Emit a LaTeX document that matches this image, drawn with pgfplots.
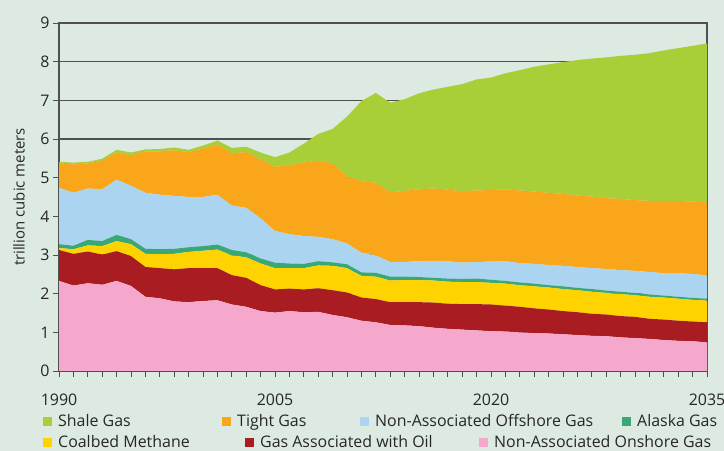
\documentclass[border=0pt]{standalone}
\usepackage{pgfplots}
\pgfplotsset{compat=1.18}
\usepackage{pgfplotstable}
\usepackage{fontspec}
\setmainfont{Open Sans}
\definecolor{bg}{RGB}{221,234,225}
\definecolor{axgray}{RGB}{80,80,80}
\definecolor{shale}{RGB}{168,207,56}
\definecolor{tight}{RGB}{250,166,26}
\definecolor{offshore}{RGB}{171,212,240}
\definecolor{alaska}{RGB}{58,168,118}
\definecolor{cbm}{RGB}{255,211,0}
\definecolor{oil}{RGB}{169,29,34}
\definecolor{onshore}{RGB}{245,168,203}
\newcommand\tickfont{\fontsize{16}{19}\selectfont}
\newcommand\legfont{\fontsize{16}{18}\selectfont}
\newcommand\labfont{\fontsize{15}{18}\selectfont}

\pgfplotstableread{
year onshore oil cbm alaska offshore tight shale
1990 2.33 0.80 0.05 0.10 1.46 0.63 0.04
1991 2.21 0.82 0.12 0.09 1.37 0.73 0.05
1992 2.27 0.82 0.16 0.14 1.33 0.65 0.04
1993 2.23 0.78 0.22 0.13 1.34 0.74 0.05
1994 2.33 0.77 0.26 0.16 1.43 0.70 0.07
1995 2.20 0.77 0.31 0.13 1.38 0.79 0.07
1996 1.92 0.77 0.34 0.13 1.45 1.07 0.05
1997 1.88 0.78 0.36 0.13 1.41 1.12 0.06
1998 1.80 0.83 0.40 0.13 1.37 1.18 0.07
1999 1.78 0.88 0.42 0.12 1.30 1.16 0.06
2000 1.81 0.85 0.45 0.12 1.27 1.25 0.08
2001 1.83 0.83 0.48 0.13 1.29 1.30 0.10
2002 1.72 0.76 0.51 0.14 1.15 1.35 0.14
2003 1.66 0.75 0.53 0.13 1.15 1.44 0.14
2004 1.55 0.67 0.56 0.13 1.04 1.52 0.18
2005 1.51 0.60 0.55 0.14 0.82 1.66 0.25
2006 1.55 0.58 0.53 0.12 0.76 1.78 0.33
2007 1.52 0.59 0.55 0.11 0.72 1.90 0.49
2008 1.53 0.61 0.59 0.11 0.63 1.97 0.69
2009 1.45 0.64 0.63 0.09 0.60 1.96 0.89
2010 1.39 0.64 0.63 0.10 0.54 1.73 1.55
2011 1.30 0.60 0.56 0.09 0.51 1.85 2.07
2012 1.26 0.60 0.58 0.10 0.45 1.88 2.32
2013 1.19 0.59 0.56 0.10 0.38 1.80 2.32
2014 1.18 0.60 0.57 0.09 0.38 1.84 2.37
2015 1.16 0.62 0.57 0.08 0.41 1.86 2.48
2016 1.12 0.65 0.57 0.07 0.44 1.87 2.56
2017 1.09 0.65 0.57 0.08 0.45 1.85 2.66
2018 1.07 0.66 0.57 0.08 0.42 1.85 2.77
2019 1.05 0.68 0.57 0.09 0.43 1.85 2.87
2020 1.03 0.69 0.56 0.08 0.47 1.85 2.91
2021 1.02 0.67 0.57 0.07 0.51 1.86 3.00
2022 1.00 0.66 0.56 0.07 0.50 1.88 3.11
2023 0.98 0.64 0.57 0.07 0.51 1.87 3.23
2024 0.97 0.62 0.57 0.06 0.52 1.87 3.32
2025 0.95 0.60 0.57 0.07 0.53 1.86 3.41
2026 0.93 0.59 0.57 0.06 0.54 1.85 3.50
2027 0.91 0.57 0.57 0.07 0.54 1.85 3.57
2028 0.90 0.56 0.56 0.06 0.56 1.83 3.64
2029 0.87 0.55 0.57 0.06 0.56 1.84 3.70
2030 0.85 0.55 0.56 0.06 0.57 1.83 3.76
2031 0.83 0.52 0.57 0.06 0.58 1.84 3.82
2032 0.80 0.53 0.57 0.05 0.58 1.87 3.89
2033 0.78 0.52 0.57 0.05 0.61 1.87 3.95
2034 0.77 0.51 0.56 0.05 0.62 1.87 4.03
2035 0.74 0.52 0.56 0.05 0.60 1.89 4.11
}\gasdata

\pgfplotsset{
  legaxis/.style={
    at={(59bp,80bp)}, anchor=south west,
    width=648bp, height=348bp, scale only axis,
    hide axis, xmin=0, xmax=1, ymin=0, ymax=1,
    legend cell align=left,
    legend image code/.code={\fill[##1,draw=none] (0bp,-4.5bp) rectangle (9bp,4.5bp);},
  },
}

\begin{document}
\begin{tikzpicture}
\fill[bg] (0bp,0bp) rectangle (724bp,451bp);
\useasboundingbox (0bp,0bp) rectangle (724bp,451bp);
\begin{axis}[
  at={(59bp,80bp)}, anchor=south west,
  width=648bp, height=348bp, scale only axis,
  xmin=1990, xmax=2035, ymin=0, ymax=9,
  xtick={1990,2005,2020,2035},
  minor xtick={1990,1991,...,2035},
  ytick={0,1,...,9},
  tick pos=left,
  tick align=outside,
  major tick length=6bp, minor tick length=6bp,
  ymajorgrids,
  grid style={color=axgray, line width=1.1bp},
  axis line style={color=axgray, line width=1.1bp},
  tick style={color=axgray, line width=0.9bp},
  minor tick style={color=axgray, line width=0.9bp},
  tick label style={font=\tickfont, color=black!85},
  xticklabel style={yshift=-13bp},
  ylabel={trillion cubic meters},
  ylabel style={at={(axis description cs:-0.0617,0.5)}, anchor=center, font=\labfont, color=black!85},
  stack plots=y,
  /pgf/number format/1000 sep={},
  /pgf/number format/assume math mode=true,
]
\addplot[fill=onshore, draw=none] table[x=year, y=onshore] {\gasdata} \closedcycle;
\addplot[fill=oil, draw=none] table[x=year, y=oil] {\gasdata} \closedcycle;
\addplot[fill=cbm, draw=none] table[x=year, y=cbm] {\gasdata} \closedcycle;
\addplot[fill=alaska, draw=none] table[x=year, y=alaska] {\gasdata} \closedcycle;
\addplot[fill=offshore, draw=none] table[x=year, y=offshore] {\gasdata} \closedcycle;
\addplot[fill=tight, draw=none] table[x=year, y=tight] {\gasdata} \closedcycle;
\addplot[fill=shale, draw=none] table[x=year, y=shale] {\gasdata} \closedcycle;
\end{axis}

\begin{axis}[legaxis,
  legend columns=4,
  legend style={at={(-0.0247,-0.1451)}, anchor=west, draw=none, fill=none,
    inner sep=0pt, column sep=6bp, font=\legfont, text=black!85,
    nodes={inner sep=0pt}},
]
\addlegendimage{fill=shale}\addlegendentry{\makebox[158bp][l]{Shale Gas}}
\addlegendimage{fill=tight}\addlegendentry{\makebox[117bp][l]{Tight Gas}}
\addlegendimage{fill=offshore}\addlegendentry{\makebox[241bp][l]{Non-Associated Offshore Gas}}
\addlegendimage{fill=alaska}\addlegendentry{Alaska Gas}
\end{axis}

\begin{axis}[legaxis,
  legend columns=3,
  legend style={at={(-0.0247,-0.2055)}, anchor=west, draw=none, fill=none,
    inner sep=0pt, column sep=6bp, font=\legfont, text=black!85,
    nodes={inner sep=0pt}},
]
\addlegendimage{fill=cbm}\addlegendentry{\makebox[181bp][l]{Coalbed Methane}}
\addlegendimage{fill=oil}\addlegendentry{\makebox[213bp][l]{Gas Associated with Oil}}
\addlegendimage{fill=onshore}\addlegendentry{Non-Associated Onshore Gas}
\end{axis}
\end{tikzpicture}
\end{document}
